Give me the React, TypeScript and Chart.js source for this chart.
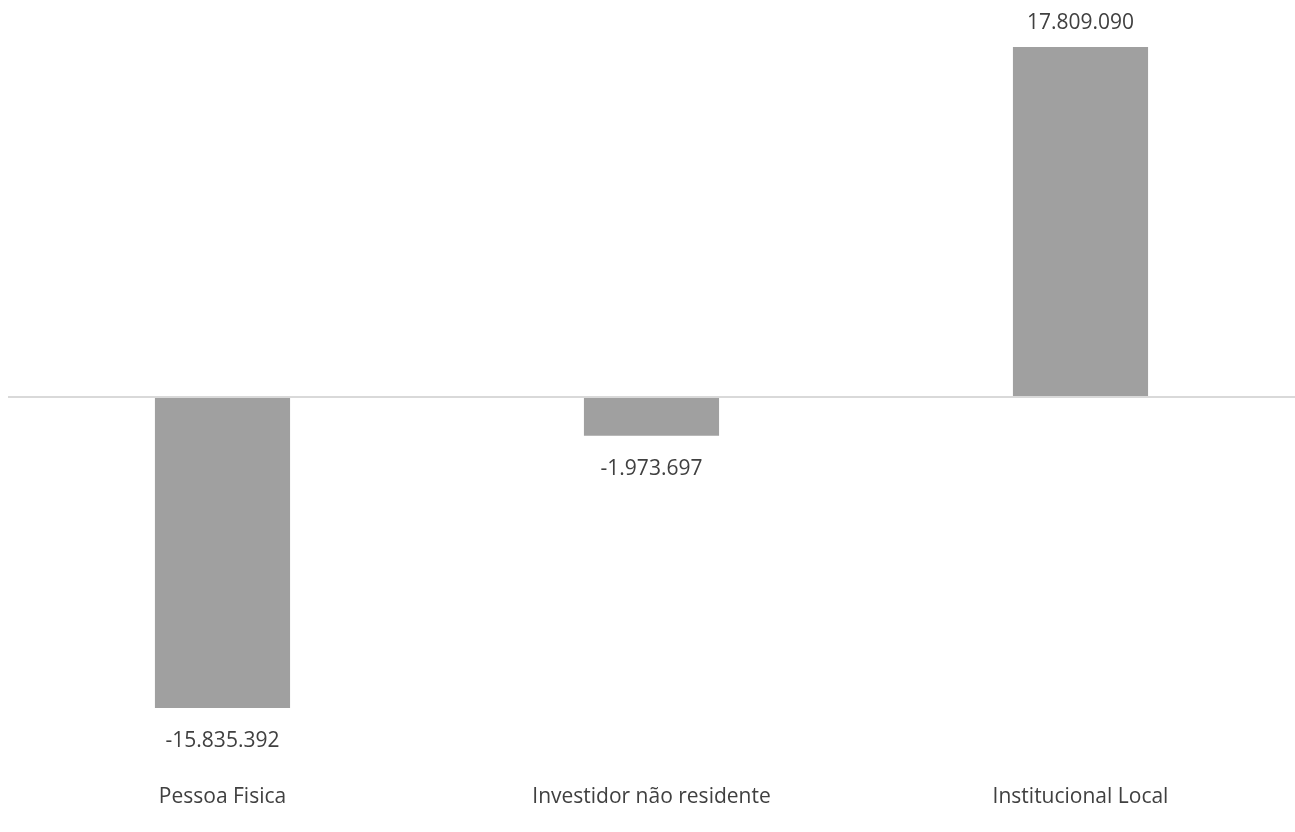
import React, { useEffect, useRef } from "react";
import { Chart, registerables } from "chart.js";

Chart.register(...registerables);

const categories: string[] = ["Pessoa Fisica", "Investidor não residente", "Institucional Local"];
const values: number[] = [-15835392, -1973697, 17809090];
const valueLabels: string[] = ["-15.835.392", "-1.973.697", "17.809.090"];

const BAR_COLOR = "#A0A0A0";
const TEXT_COLOR = "#404040";
const FONT_FAMILY = "'Open Sans', sans-serif";
const FONT_SIZE = 21;

const dataLabelPlugin = {
  id: "dataLabels",
  afterDatasetsDraw(chart: any) {
    const ctx = chart.ctx;
    const meta = chart.getDatasetMeta(0);
    ctx.save();
    ctx.fillStyle = TEXT_COLOR;
    ctx.font = `${FONT_SIZE}px ${FONT_FAMILY}`;
    ctx.textAlign = "center";
    ctx.textBaseline = "middle";
    meta.data.forEach((bar: any, i: number) => {
      const v = values[i];
      const y = v >= 0 ? bar.y - 24 : bar.y + 33;
      ctx.fillText(valueLabels[i], bar.x, y);
    });
    ctx.restore();
  },
};

export default function App() {
  const canvasRef = useRef<HTMLCanvasElement | null>(null);

  useEffect(() => {
    document.body.style.margin = "0";
    const canvas = canvasRef.current;
    if (!canvas) return;
    const chart = new Chart(canvas, {
      type: "bar",
      data: {
        labels: categories,
        datasets: [
          {
            data: values,
            backgroundColor: BAR_COLOR,
            borderWidth: 0,
            barPercentage: 0.63,
            categoryPercentage: 0.5,
          },
        ],
      },
      options: {
        animation: false,
        responsive: false,
        maintainAspectRatio: false,
        layout: { padding: { left: 8, right: 0, top: 4, bottom: 22 } },
        plugins: {
          legend: { display: false },
          tooltip: { enabled: false },
        },
        scales: {
          x: {
            grid: { display: false, drawTicks: false },
            border: { display: false },
            ticks: {
              color: TEXT_COLOR,
              font: { family: FONT_FAMILY, size: FONT_SIZE },
              padding: 0,
              maxRotation: 0,
            },
          },
          y: {
            min: -19742000,
            max: 20000000,
            display: true,
            afterBuildTicks: (axis: any) => {
              axis.ticks = [{ value: 0 }];
            },
            ticks: { display: false },
            border: { display: false },
            grid: {
              drawTicks: false,
              color: "#D9D9D9",
              lineWidth: 2,
            },
          },
        },
      },
      plugins: [dataLabelPlugin],
    });
    return () => chart.destroy();
  }, []);

  return (
    <div style={{ position: "absolute", left: 0, top: 0, width: 1295, height: 832 }}>
      <canvas ref={canvasRef} width={1295} height={832} style={{ width: 1295, height: 832 }} />
    </div>
  );
}
